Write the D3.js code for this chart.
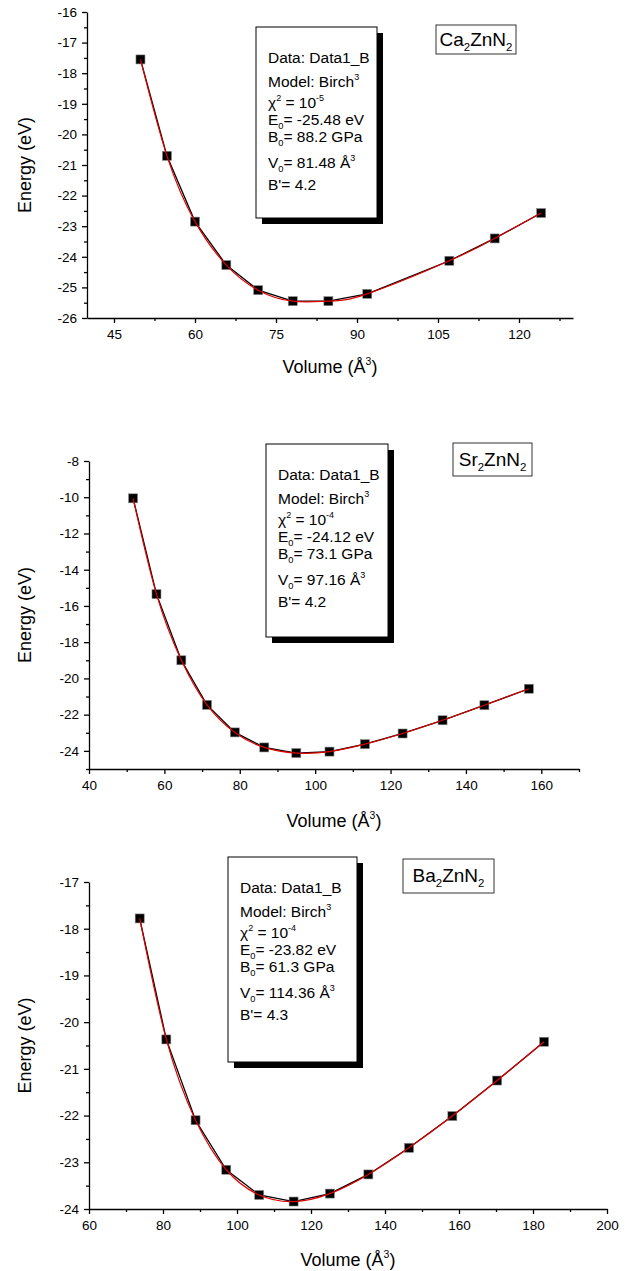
<!DOCTYPE html>
<html>
<head>
<meta charset="utf-8">
<script src="https://cdn.jsdelivr.net/npm/d3@7"></script>
<style>
  body { margin: 0; background: #fff; }
  svg { display: block; font-family: Arial, "Liberation Sans", sans-serif; }
</style>
</head>
<body>
<script>
// Ca2ZnN2
const caVolume = [49.9, 54.8, 60.0, 65.8, 71.7, 78.1, 84.7, 91.9, 107.1, 115.5, 124.1];
const caEnergy = [-17.55, -20.70, -22.85, -24.27, -25.09, -25.45, -25.45, -25.21, -24.13, -23.40, -22.57];
const caXTicks = [45, 60, 75, 90, 105, 120];
const caXMinor = [52.5, 67.5, 82.5, 97.5, 112.5, 127.5];
const caYTicks = [-16, -17, -18, -19, -20, -21, -22, -23, -24, -25, -26];
const caYMinor = [-16.5, -17.5, -18.5, -19.5, -20.5, -21.5, -22.5, -23.5, -24.5, -25.5];
const caName = "Ca_{2}ZnN_{2}";
const caFit = ["Data: Data1_B", "Model: Birch^{3}", "χ^{2} = 10^{-5}", "E_{0}= -25.48 eV",
  "B_{0}= 88.2 GPa", "V_{0}= 81.48 Å^{3}", "B'= 4.2"];

// Sr2ZnN2
const srVolume = [51.7, 57.9, 64.5, 71.3, 78.7, 86.5, 95.0, 103.8, 113.2, 123.2, 133.8, 144.9, 156.7];
const srEnergy = [-10.06, -15.35, -19.00, -21.46, -22.98, -23.81, -24.12, -24.04, -23.63, -23.04, -22.31, -21.48, -20.57];
const srXTicks = [40, 60, 80, 100, 120, 140, 160];
const srXMinor = [50, 70, 90, 110, 130, 150, 170];
const srYTicks = [-8, -10, -12, -14, -16, -18, -20, -22, -24];
const srYMinor = [-9, -11, -13, -15, -17, -19, -21, -23, -25];
const srName = "Sr_{2}ZnN_{2}";
const srFit = ["Data: Data1_B", "Model: Birch^{3}", "χ^{2} = 10^{-4}", "E_{0}= -24.12 eV",
  "B_{0}= 73.1 GPa", "V_{0}= 97.16 Å^{3}", "B'= 4.2"];

// Ba2ZnN2
const baVolume = [73.7, 80.9, 88.8, 97.1, 106.0, 115.3, 125.1, 135.5, 146.5, 158.2, 170.3, 183.0];
const baEnergy = [-17.78, -20.37, -22.10, -23.16, -23.70, -23.84, -23.67, -23.26, -22.69, -22.01, -21.25, -20.42];
const baXTicks = [60, 80, 100, 120, 140, 160, 180, 200];
const baXMinor = [70, 90, 110, 130, 150, 170, 190];
const baYTicks = [-17, -18, -19, -20, -21, -22, -23, -24];
const baYMinor = [-17.5, -18.5, -19.5, -20.5, -21.5, -22.5, -23.5];
const baName = "Ba_{2}ZnN_{2}";
const baFit = ["Data: Data1_B", "Model: Birch^{3}", "χ^{2} = 10^{-4}", "E_{0}= -23.82 eV",
  "B_{0}= 61.3 GPa", "V_{0}= 114.36 Å^{3}", "B'= 4.3"];

const xTitle = "Volume (Å^{3})";
const yTitle = "Energy (eV)";

const panels = [
  { vol: caVolume, en: caEnergy, xTicks: caXTicks, xMinor: caXMinor, yTicks: caYTicks, yMinor: caYMinor,
    name: caName, fit: caFit, xDomain: [40, 130], yDomain: [-26, -16],
    left: 87, right: 573, top: 12, bottom: 318, titleY: 373,
    box: { x: 256, y: 27, w: 121, h: 191 }, tag: { x: 436, y: 25, w: 80, h: 29 } },
  { vol: srVolume, en: srEnergy, xTicks: srXTicks, xMinor: srXMinor, yTicks: srYTicks, yMinor: srYMinor,
    name: srName, fit: srFit, xDomain: [40, 170], yDomain: [-25, -8],
    left: 89, right: 579, top: 461, bottom: 769, titleY: 827,
    box: { x: 266, y: 444, w: 122, h: 193 }, tag: { x: 453, y: 443, w: 79, h: 33 } },
  { vol: baVolume, en: baEnergy, xTicks: baXTicks, xMinor: baXMinor, yTicks: baYTicks, yMinor: baYMinor,
    name: baName, fit: baFit, xDomain: [60, 200], yDomain: [-24, -17],
    left: 89, right: 607, top: 882, bottom: 1209, titleY: 1266,
    box: { x: 228, y: 857, w: 129, h: 205 }, tag: { x: 403, y: 859, w: 91, h: 34 } }
];

const lineOffsets = [36, 60, 81, 98, 115, 141, 163];

const svg = d3.select("body")
  .append("svg")
  .attr("width", 630)
  .attr("height", 1271);

// writes "a_{b}c^{d}" as tspans with sub/superscripts
function richText(text, str, size) {
  const parts = str.split(/([_^]\{[^}]*\})/).filter((s) => s);
  let shift = 0;
  parts.forEach((p) => {
    let target = 0, txt = p, fs = size;
    if (p.startsWith("^{")) { target = -size * 0.42; txt = p.slice(2, -1); fs = size * 0.58; }
    else if (p.startsWith("_{")) { target = size * 0.28; txt = p.slice(2, -1); fs = size * 0.6; }
    text.append("tspan")
      .attr("dy", target - shift)
      .attr("font-size", fs)
      .text(txt);
    shift = target;
  });
}

panels.forEach((p) => {
  const g = svg.append("g");

  const x = d3.scaleLinear().domain(p.xDomain).range([p.left, p.right]);
  const y = d3.scaleLinear().domain(p.yDomain).range([p.bottom, p.top]);

  // minor ticks
  g.append("g")
    .attr("transform", `translate(0,${p.bottom})`)
    .call(d3.axisBottom(x).tickValues(p.xMinor).tickSize(3).tickSizeOuter(0).tickFormat(""))
    .call((a) => a.select(".domain").remove());
  g.append("g")
    .attr("transform", `translate(${p.left},0)`)
    .call(d3.axisLeft(y).tickValues(p.yMinor).tickSize(3).tickSizeOuter(0).tickFormat(""))
    .call((a) => a.select(".domain").remove());

  // major ticks
  const xAxis = g.append("g")
    .attr("transform", `translate(0,${p.bottom})`)
    .call(d3.axisBottom(x).tickValues(p.xTicks).tickSize(5).tickSizeOuter(0).tickPadding(6)
      .tickFormat((d) => String(d)));
  const yAxis = g.append("g")
    .attr("transform", `translate(${p.left},0)`)
    .call(d3.axisLeft(y).tickValues(p.yTicks).tickSize(5).tickSizeOuter(0).tickPadding(5)
      .tickFormat((d) => String(d)));

  g.selectAll(".tick line, .domain").attr("stroke", "#000").attr("stroke-width", 1.3);
  [xAxis, yAxis].forEach((a) => a.selectAll("text")
    .attr("font-size", 13.5)
    .attr("font-family", "Arial, 'Liberation Sans', sans-serif")
    .attr("fill", "#000"));

  // axis titles
  const xt = g.append("text")
    .attr("x", (p.left + p.right) / 2)
    .attr("y", p.titleY)
    .attr("text-anchor", "middle")
    .attr("font-size", 18);
  richText(xt, xTitle, 18);

  g.append("text")
    .attr("transform", `translate(31,${(p.top + p.bottom) / 2}) rotate(-90)`)
    .attr("text-anchor", "middle")
    .attr("font-size", 18)
    .text(yTitle);

  const pts = p.vol.map((v, i) => [v, p.en[i]]);

  // data line (straight segments)
  g.append("path")
    .datum(pts)
    .attr("fill", "none")
    .attr("stroke", "#000")
    .attr("stroke-width", 1.3)
    .attr("d", d3.line().x((d) => x(d[0])).y((d) => y(d[1])));

  // symbols
  g.selectAll("rect.pt")
    .data(pts)
    .enter()
    .append("rect")
    .attr("class", "pt")
    .attr("x", (d) => x(d[0]) - 4.5)
    .attr("y", (d) => y(d[1]) - 4.5)
    .attr("width", 9)
    .attr("height", 9)
    .attr("fill", "#000")
    .attr("stroke", "#888")
    .attr("stroke-width", 0.6);

  // fitted curve (smooth)
  g.append("path")
    .datum(pts)
    .attr("fill", "none")
    .attr("stroke", "#e00000")
    .attr("stroke-width", 1.2)
    .attr("d", d3.line().curve(d3.curveNatural).x((d) => x(d[0])).y((d) => y(d[1])));

  // parameter box with shadow
  g.append("rect")
    .attr("x", p.box.x + 6)
    .attr("y", p.box.y + 6)
    .attr("width", p.box.w)
    .attr("height", p.box.h)
    .attr("fill", "#000");
  g.append("rect")
    .attr("x", p.box.x)
    .attr("y", p.box.y)
    .attr("width", p.box.w)
    .attr("height", p.box.h)
    .attr("fill", "#fff")
    .attr("stroke", "#000")
    .attr("stroke-width", 1);

  p.fit.forEach((line, i) => {
    const t = g.append("text")
      .attr("x", p.box.x + 12)
      .attr("y", p.box.y + lineOffsets[i])
      .attr("font-size", 15.5);
    richText(t, line, 15.5);
  });

  // compound label
  g.append("rect")
    .attr("x", p.tag.x)
    .attr("y", p.tag.y)
    .attr("width", p.tag.w)
    .attr("height", p.tag.h)
    .attr("fill", "#fff")
    .attr("stroke", "#333")
    .attr("stroke-width", 1);
  const nt = g.append("text")
    .attr("x", p.tag.x + p.tag.w / 2)
    .attr("y", p.tag.y + p.tag.h / 2 + 6)
    .attr("text-anchor", "middle")
    .attr("font-size", 19);
  richText(nt, p.name, 19);
});
</script>
</body>
</html>
